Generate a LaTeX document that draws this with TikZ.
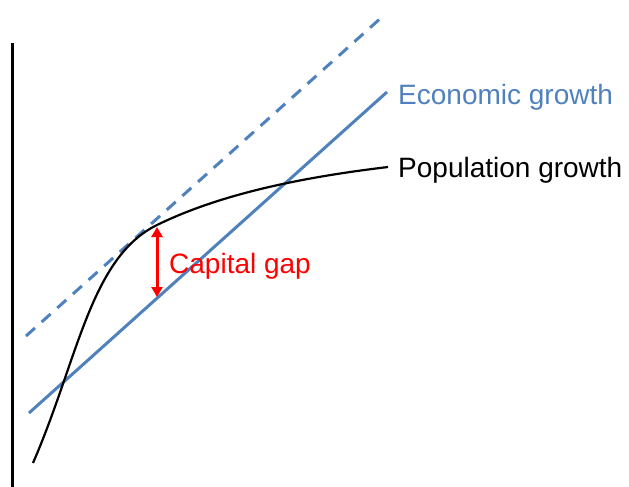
\documentclass[tikz,border=0pt]{standalone}
\usepackage{fontspec}
\setmainfont{Liberation Sans}
\usetikzlibrary{arrows.meta}
\definecolor{econblue}{HTML}{4F81BD}
\tikzset{
  lbl/.style={anchor=base west,inner sep=0pt,font=\fontsize{28}{34}\selectfont},
  econ/.style={draw=econblue,line width=3pt},
  popc/.style={draw=black,line width=2.2pt},
  gaparrow/.style={draw=red,line width=3pt,{Triangle[width=11pt,length=10pt]}-{Triangle[width=11pt,length=10pt]}},
}
\begin{document}
\begin{tikzpicture}[x=1pt,y=-1pt]
\useasboundingbox (0,0) rectangle (629,487);
% axis
\coordinate (axtop) at (12,43);
\coordinate (axbot) at (12,487);
\draw[line width=3pt] (axtop) -- (axbot);
% dashed economic growth
\coordinate (d0) at (26,336);
\coordinate (d1) at (382,17);
\draw[econ,dash pattern=on 12pt off 9pt] (d0) -- (d1);
% solid economic growth
\coordinate (e0) at (29,413);
\coordinate (e1) at (387,92);
\draw[econ] (e0) -- (e1);
\node[lbl,text=econblue] (econlbl) at (398,104) {Economic growth};
% population growth
\coordinate (p0) at (33,463);
\coordinate (pm) at (157,225);
\coordinate (p1) at (388,167);
\draw[popc] (p0) .. controls (78,359.5) and (90.4,257.6) .. (pm)
            .. controls (223.6,192.4) and (308,176.6) .. (p1);
\node[lbl] (poplbl) at (398,177) {Population growth};
% capital gap
\coordinate (g0) at (157,227);
\coordinate (g1) at (157,297);
\draw[gaparrow] (g0) -- (g1);
\node[lbl,text=red] (gaplbl) at (169,273) {Capital gap};
\end{tikzpicture}
\end{document}
